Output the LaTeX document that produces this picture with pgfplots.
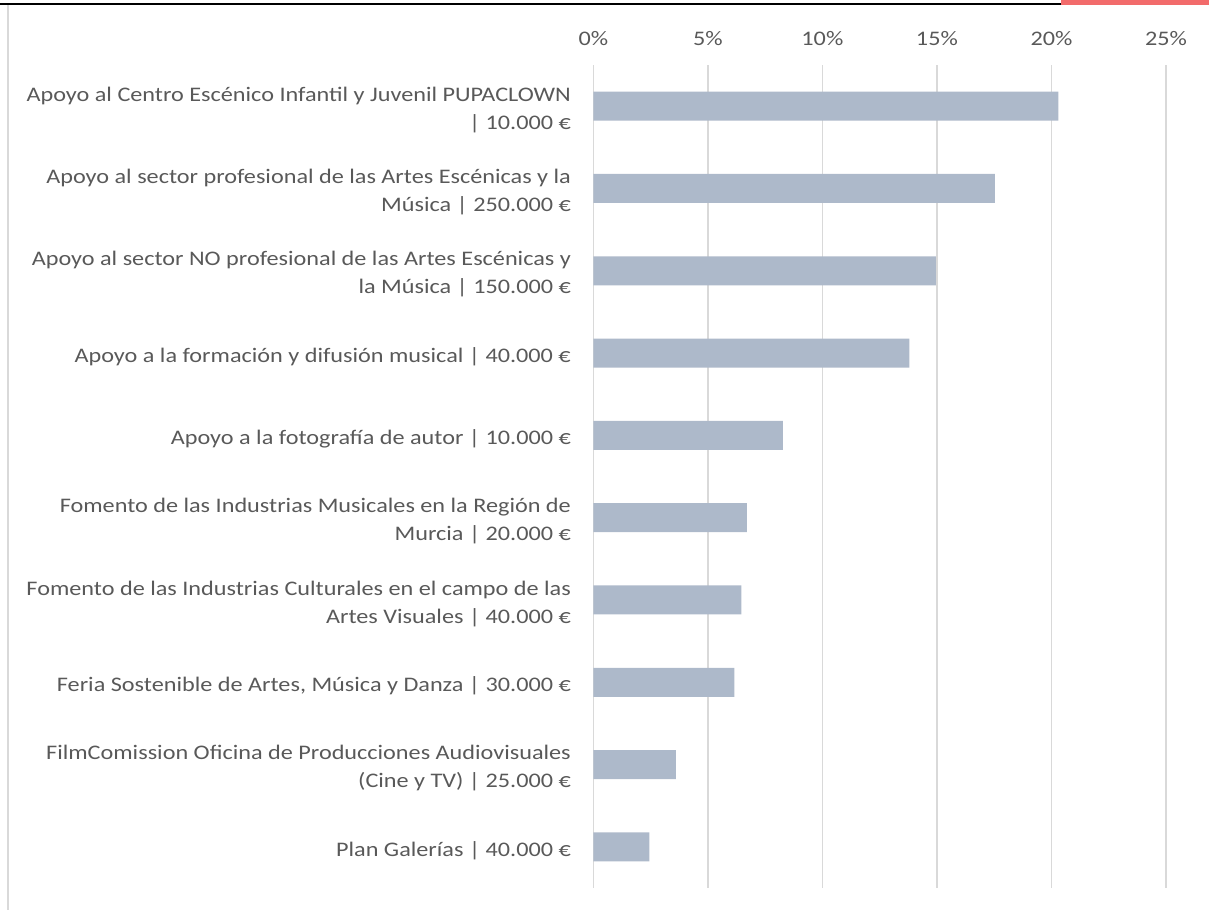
\documentclass[border=0pt]{standalone}
\usepackage{fontspec}
\setmainfont{Carlito}[FakeStretch=1.17]
\usepackage{pgfplots}
\pgfplotsset{compat=1.18}
\definecolor{bargray}{HTML}{ADB9CA}
\definecolor{gridgray}{HTML}{D9D9D9}
\definecolor{txtgray}{HTML}{595959}
\definecolor{topred}{HTML}{F26B6B}

\begin{document}
\begin{tikzpicture}
% frame in pixel units of the reference (1209 x 910), 1px = 0.5pt
\begin{scope}[x=0.5pt,y=-0.5pt]
\path[use as bounding box] (0,0) rectangle (1209,910);
\fill[topred] (1061,0) rectangle (1209,4.5);
\draw[black,line width=1pt] (0,4) -- (1061,4);
\draw[gridgray,line width=1pt] (8,5) -- (8,910);
\end{scope}
\begin{axis}[at={(296.65pt,-32.5pt)},anchor=north west,scale only axis,
 width=286.35pt,height=411.5pt,
 xbar,bar width=14.5pt,
 xmin=0,xmax=25,ymin=-0.5,ymax=9.5,y dir=reverse,enlargelimits=false,
 axis x line*=top,axis y line*=left,axis line style={draw=none},
 major tick length=0pt,
 xtick={0,5,...,25},xticklabels={0\%,5\%,10\%,15\%,20\%,25\%},
 xmajorgrids,grid style={gridgray,line width=0.8pt},
 ytick={0,...,9},
 yticklabels={{Apoyo al Centro Escénico Infantil y Juvenil PUPACLOWN\\| 10.000 €},
  {Apoyo al sector profesional de las Artes Escénicas y la\\Música | 250.000 €},
  {Apoyo al sector NO profesional de las Artes Escénicas y\\la Música | 150.000 €},
  {Apoyo a la formación y difusión musical | 40.000 €},
  {Apoyo a la fotografía de autor | 10.000 €},
  {Fomento de las Industrias Musicales en la Región de\\Murcia | 20.000 €},
  {Fomento de las Industrias Culturales en el campo de las\\Artes Visuales | 40.000 €},
  {Feria Sostenible de Artes, Música y Danza | 30.000 €},
  {FilmComission Oficina de Producciones Audiovisuales\\(Cine y TV) | 25.000 €},
  {Plan Galerías | 40.000 €}},
 tick label style={font=\fontsize{10.35pt}{14pt}\selectfont,text=txtgray},
 yticklabel style={align=right,anchor=east,inner sep=0pt,xshift=-11pt,yshift=-1.8pt},
 xticklabel style={anchor=base,inner sep=0pt,yshift=10pt},
 clip=false]
\addplot[fill=bargray,draw=none] coordinates {
 (20.30,0) (17.53,1) (14.95,2) (13.80,3) (8.28,4)
 (6.70,5) (6.46,6) (6.16,7) (3.60,8) (2.45,9)};
\end{axis}
\end{tikzpicture}
\end{document}
